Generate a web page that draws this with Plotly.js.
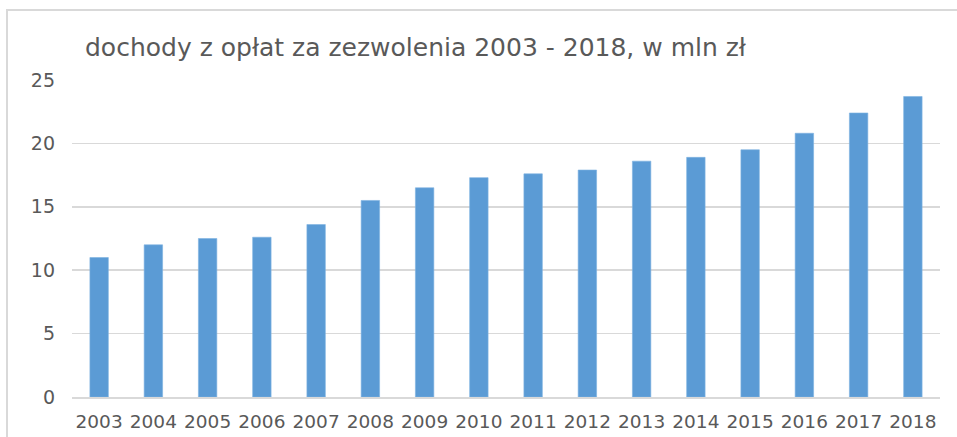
<!DOCTYPE html>
<html>
<head>
<meta charset="utf-8">
<script src="https://cdn.plot.ly/plotly-3.0.1.min.js"></script>
<style>html,body{margin:0;padding:0;background:#fff;}#chart{width:957px;height:437px;}</style>
</head>
<body>
<div id="chart"></div>
<script>
const years = ["2003","2004","2005","2006","2007","2008","2009","2010","2011","2012","2013","2014","2015","2016","2017","2018"];
const income = [11.0, 12.0, 12.5, 12.6, 13.6, 15.5, 16.5, 17.3, 17.6, 17.9, 18.6, 18.9, 19.5, 20.8, 22.4, 23.7];
const yTicks = [0, 5, 10, 15, 20, 25];
const titleText = "dochody z opłat za zezwolenia 2003 - 2018, w mln zł";

const trace = {
  type: "bar",
  x: years,
  y: income,
  marker: { color: "#5B9BD5", line: { color: "#7DB1E0", width: 0.6 } },
  hoverinfo: "x+y"
};

const layout = {
  width: 957,
  height: 437,
  margin: { l: 72, r: 17, t: 80, b: 40 },
  paper_bgcolor: "#ffffff",
  plot_bgcolor: "#ffffff",
  bargap: 0.66,
  showlegend: false,
  title: {
    text: titleText,
    font: { family: "DejaVu Sans, sans-serif", size: 25, color: "#595959" },
    x: 85 / 957, xref: "container", xanchor: "left",
    y: 1 - 47 / 437, yref: "container", yanchor: "middle"
  },
  xaxis: {
    type: "category",
    showgrid: false,
    showline: true,
    linecolor: "#d9d9d9",
    linewidth: 2,
    ticks: "",
    tickfont: { family: "DejaVu Sans, sans-serif", size: 18.5, color: "#595959" },
    ticklabelstandoff: 7
  },
  yaxis: {
    range: [0, 25],
    tickvals: yTicks,
    ticktext: yTicks.map(String),
    showgrid: true,
    gridcolor: "#d9d9d9",
    gridwidth: 1.5,
    zeroline: false,
    showline: false,
    ticks: "",
    tickfont: { family: "DejaVu Sans, sans-serif", size: 19, color: "#595959" },
    ticklabelstandoff: 16
  },
  shapes: [
    {
      type: "rect", xref: "paper", yref: "paper",
      x0: -0.0749, x1: 1.2, y0: -0.3, y1: 1.221,
      line: { color: "#d9d9d9", width: 2 },
      fillcolor: "rgba(0,0,0,0)",
      layer: "below"
    }
  ]
};

Plotly.newPlot("chart", [trace], layout, { displayModeBar: false, staticPlot: true });
</script>
</body>
</html>
